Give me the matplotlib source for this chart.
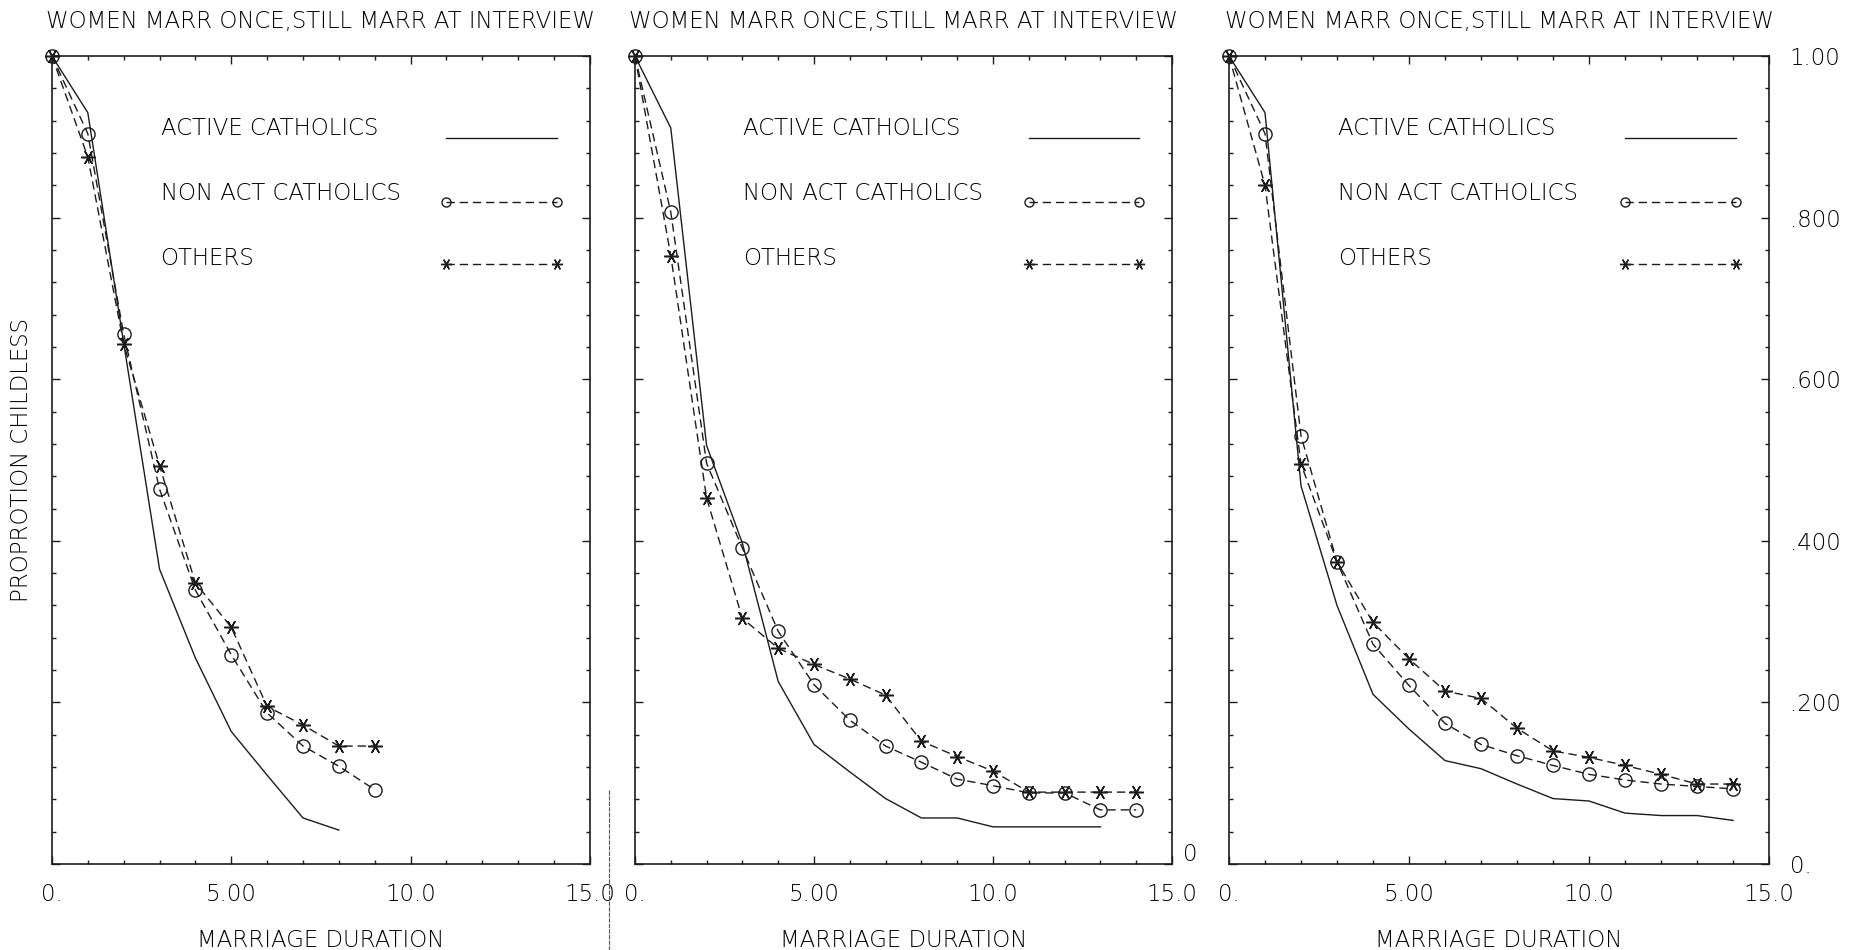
"""
childless_by_duration.py - proportion childless by marriage duration, three panels
"""

import matplotlib
matplotlib.use('Agg')
import matplotlib.pyplot as plt
from matplotlib.ticker import MultipleLocator, FixedLocator, FixedFormatter
from matplotlib.lines import Line2D

plt.rcParams['font.family'] = ['DejaVu Sans']
plt.rcParams['font.weight'] = 'light'
plt.rcParams['axes.titleweight'] = 'light'
plt.rcParams['axes.labelweight'] = 'light'

# marriage duration (years)
durations = [0, 1, 2, 3, 4, 5, 6, 7, 8, 9, 10, 11, 12, 13, 14]

# panel 1
active1 = [1.0, 0.930, 0.645, 0.365, 0.255, 0.164, 0.110, 0.057, 0.042]
nonact1 = [1.0, 0.904, 0.656, 0.464, 0.339, 0.259, 0.187, 0.146, 0.121, 0.092]
others1 = [1.0, 0.875, 0.644, 0.493, 0.348, 0.293, 0.195, 0.172, 0.146, 0.146]

# panel 2
active2 = [1.0, 0.911, 0.518, 0.397, 0.226, 0.148, 0.114, 0.081, 0.057, 0.057,
           0.046, 0.046, 0.046, 0.046]
nonact2 = [1.0, 0.807, 0.496, 0.391, 0.288, 0.222, 0.178, 0.146, 0.126, 0.105,
           0.097, 0.088, 0.088, 0.067, 0.067]
others2 = [1.0, 0.753, 0.453, 0.304, 0.267, 0.247, 0.229, 0.209, 0.152, 0.133,
           0.115, 0.089, 0.089, 0.089, 0.089]

# panel 3
active3 = [1.0, 0.930, 0.468, 0.320, 0.210, 0.167, 0.128, 0.118, 0.099, 0.081,
           0.078, 0.063, 0.060, 0.060, 0.054]
nonact3 = [1.0, 0.904, 0.530, 0.374, 0.272, 0.221, 0.174, 0.148, 0.134, 0.122,
           0.111, 0.104, 0.099, 0.096, 0.093]
others3 = [1.0, 0.840, 0.495, 0.374, 0.299, 0.254, 0.214, 0.205, 0.168, 0.140,
           0.132, 0.122, 0.111, 0.099, 0.099]

title = "WOMEN MARR ONCE,STILL MARR AT INTERVIEW"
series_names = ["ACTIVE CATHOLICS", "NON ACT CATHOLICS", "OTHERS"]
xtick_vals = [0, 5, 10, 15]
xtick_text = ["0.", "5.00", "10.0", "15.0"]
ytick_vals = [0.0, 0.2, 0.4, 0.6, 0.8, 1.0]
ytick_text = ["0.", ".200", ".400", ".600", ".800", "1.00"]

INK = "#1c1c1c"
TXT = "#000000"
FS = 16.5
STAR = (6, 2, 90)   # asterisk with a horizontal arm
DASH = (6, 3.5)

panels = [
    (active1, nonact1, others1),
    (active2, nonact2, others2),
    (active3, nonact3, others3),
]
# axes boxes in figure fractions [left, bottom, width, height]
boxes = [
    [0.0279, 0.0905, 0.2891, 0.8505],
    [0.3412, 0.0905, 0.2886, 0.8505],
    [0.6604, 0.0905, 0.2902, 0.8505],
]

fig = plt.figure(figsize=(18.61, 9.5), dpi=100)

axes = []
for k, ((act, non, oth), box) in enumerate(zip(panels, boxes)):
    ax = fig.add_axes(box)
    axes.append(ax)

    ax.plot(durations[:len(act)], act, color=INK, lw=1.0, clip_on=False)
    ax.plot(durations[:len(non)], non, color=INK, lw=1.0, dashes=DASH,
            marker="o", ms=9.5, mfc="none", mec=INK, mew=1.0, clip_on=False)
    ax.plot(durations[:len(oth)], oth, color=INK, lw=1.0, dashes=DASH,
            marker=STAR, ms=10.5, mec=INK, mew=1.1, clip_on=False)

    ax.set_xlim(0, 15)
    ax.set_ylim(0, 1)

    for s in ax.spines.values():
        s.set_color(INK)
        s.set_linewidth(1.2)

    ax.xaxis.set_major_locator(FixedLocator(xtick_vals))
    ax.xaxis.set_major_formatter(FixedFormatter(xtick_text))
    ax.xaxis.set_minor_locator(MultipleLocator(1))
    ax.yaxis.set_major_locator(FixedLocator(ytick_vals))
    ax.yaxis.set_major_formatter(FixedFormatter(ytick_text))
    ax.yaxis.set_minor_locator(MultipleLocator(0.04))

    ax.tick_params(which="both", direction="in", top=True, right=True,
                   color=INK, width=1.0)
    ax.tick_params(which="major", length=6)
    ax.tick_params(which="minor", length=3)
    ax.tick_params(axis="x", which="major", pad=14, labelsize=FS, labelcolor=TXT)
    ax.tick_params(axis="y", labelleft=False, labelright=(k == 2), pad=15,
                   labelsize=FS, labelcolor=TXT)

    ax.set_title(title, fontsize=FS, color=TXT, pad=20)
    ax.set_xlabel("MARRIAGE DURATION", fontsize=FS, color=TXT, labelpad=16)

    # key drawn inside the frame
    key_y_text = [0.910, 0.830, 0.750]
    key_y_line = [0.899, 0.819, 0.743]
    key_marks = [None, "o", STAR]
    for name, yt, yl, mk in zip(series_names, key_y_text, key_y_line, key_marks):
        ax.text(0.202, yt, name, transform=ax.transAxes, fontsize=FS,
                color=TXT, ha="left", va="center")
        if mk is None:
            ln = Line2D([0.733, 0.938], [yl, yl], transform=ax.transAxes,
                        color=INK, lw=1.0)
        else:
            ln = Line2D([0.733, 0.938], [yl, yl], transform=ax.transAxes,
                        color=INK, lw=1.0, dashes=DASH, marker=mk,
                        ms=6.5 if mk == "o" else 8, mfc="none", mec=INK,
                        mew=1.0)
        ax.add_line(ln)

    for lbl in ax.get_yticklabels():
        lbl.set_horizontalalignment("left")

axes[0].set_ylabel("PROPROTION CHILDLESS", fontsize=FS, color=TXT, labelpad=10)
axes[1].text(1.02, 0.012, "0", transform=axes[1].transAxes, fontsize=FS,
             color=TXT, ha="left", va="center")

# thin vertical rule below the first panel's right edge
fig.add_artist(Line2D([0.327, 0.327], [0.0, 0.168], transform=fig.transFigure,
                      color="#555555", lw=0.8, dashes=(4, 1)))

fig.savefig("out.png", dpi=100, facecolor="white")
